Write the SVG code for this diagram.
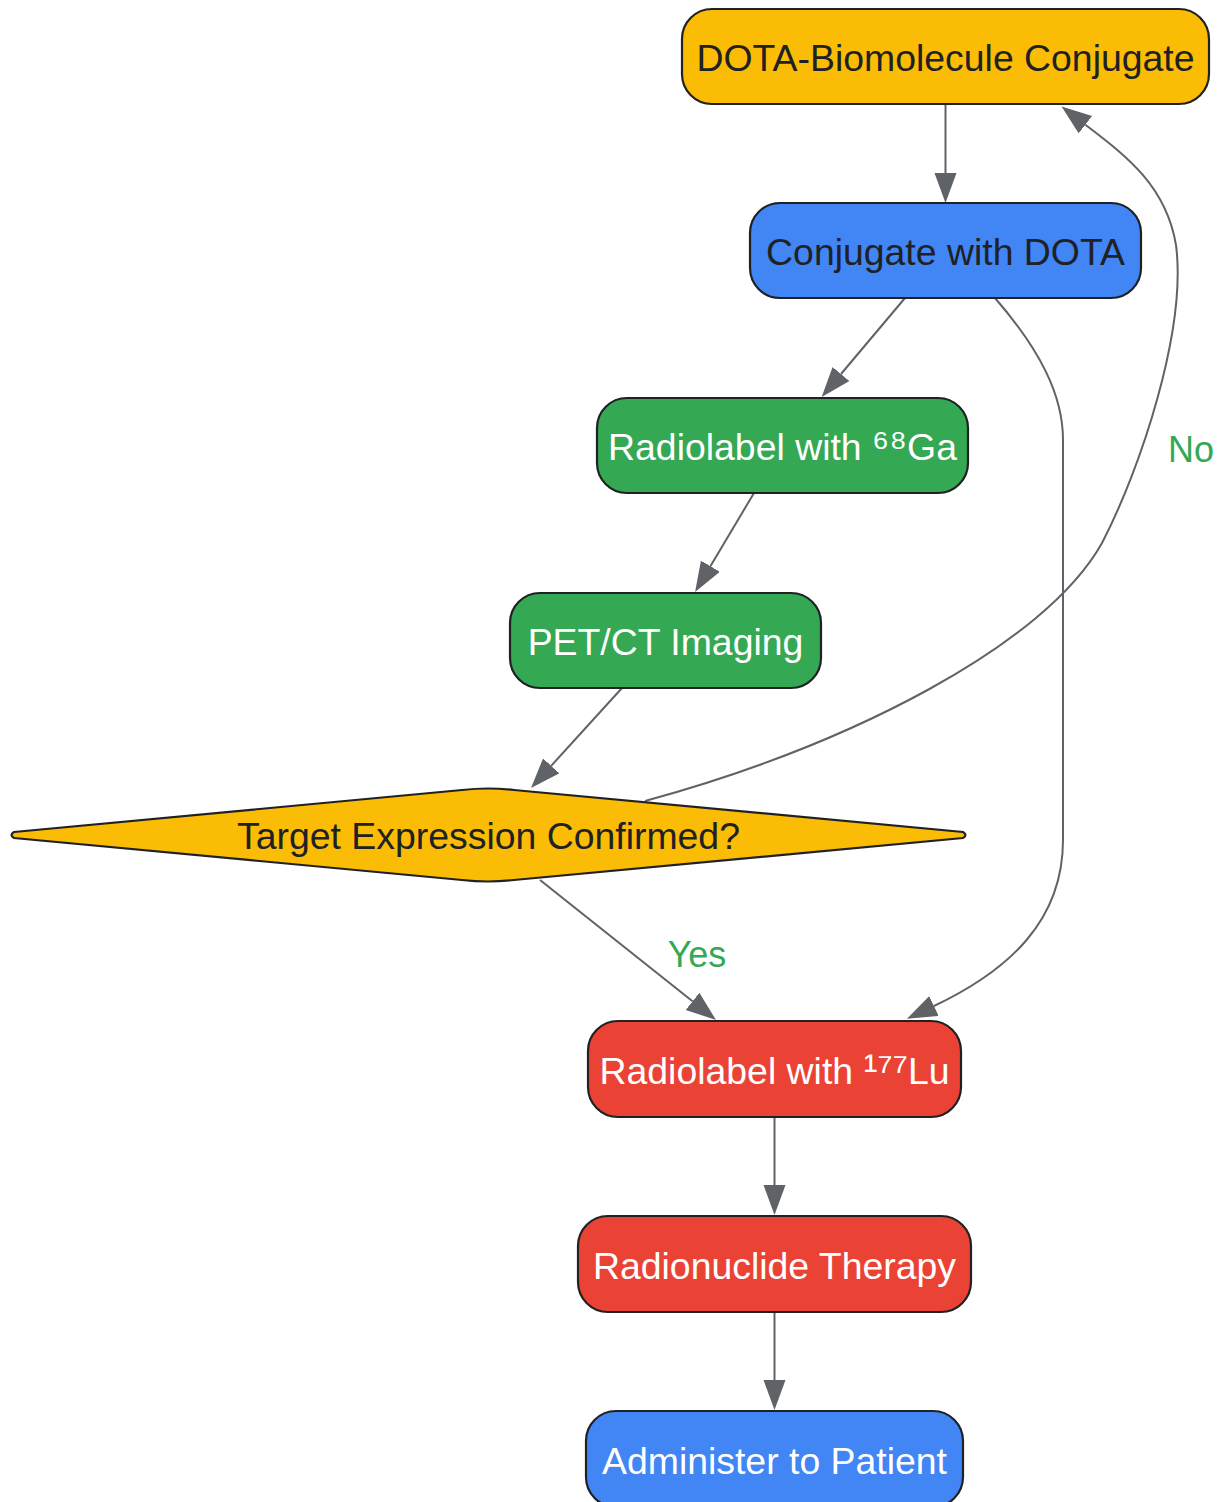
<svg xmlns="http://www.w3.org/2000/svg" width="1220" height="1502" viewBox="0 0 1220 1502">
<defs>
<style>
.node{stroke:#202124;stroke-width:2.2}
.y{fill:#FBBC05}.b{fill:#4285F4}.g{fill:#34A853}.r{fill:#EA4335}
text{font-family:"Liberation Sans",Arial,sans-serif;font-size:37.4px;text-anchor:middle}
.dk{fill:#202124}.wt{fill:#FFFFFF}
.sup{font-size:42px}
.edge{fill:none;stroke:#5F6368;stroke-width:2;marker-end:url(#ah)}
.lbl{fill:#34A853;font-size:36px}
</style>
<marker id="ah" markerUnits="userSpaceOnUse" markerWidth="32" markerHeight="24" refX="0" refY="11" orient="auto">
<path d="M0,0 L30,11 L0,22 Z" fill="#5F6368"/>
</marker>
</defs>
<rect width="1220" height="1502" fill="#FFFFFF"/>
<g id="edges">
<path class="edge" d="M945.5,104 L945.5,173"/>
<path class="edge" d="M905,298 L841,374"/>
<path class="edge" d="M754,493 L710.4,566.2"/>
<path class="edge" d="M622,688 L551.2,765.8"/>
<path class="edge" d="M540,880 L692.5,1001.3"/>
<path class="edge" d="M995,298 C1040,350 1063,395 1063,440 L1063,840 C1063,920 1010,970 934,1006"/>
<path class="edge" d="M645,801 C850,745 1045,645 1102,543 C1140,470 1187,330 1176,245 C1166,185 1125,155 1085.4,124.7"/>
<path class="edge" d="M774.5,1117 L774.5,1185"/>
<path class="edge" d="M774.5,1312 L774.5,1380"/>
<text class="lbl" x="697" y="967">Yes</text>
<text class="lbl" x="1191" y="462">No</text>
</g>
<g id="n1"><rect class="node y" x="682" y="9" width="527" height="95" rx="30"/><text class="dk" x="945.5" y="71">DOTA-Biomolecule Conjugate</text></g>
<g id="n2"><rect class="node b" x="750" y="203" width="391" height="95" rx="30"/><text class="dk" x="945.5" y="265">Conjugate with DOTA</text></g>
<g id="n3"><rect class="node g" x="597" y="398" width="371" height="95" rx="30"/><text class="wt" x="782.5" y="460">Radiolabel with <tspan class="sup">⁶⁸</tspan>Ga</text></g>
<g id="n4"><rect class="node g" x="510" y="593" width="311" height="95" rx="30"/><text class="wt" x="665.5" y="655">PET/CT Imaging</text></g>
<g id="n5"><path class="node y" d="M14,832 L462,790 Q488,787 514,790 L963,832 Q968,835 963,838 L514,880 Q488,883 462,880 L14,838 Q9,835 14,832 Z"/><text class="dk" x="488.5" y="849">Target Expression Confirmed?</text></g>
<g id="n6"><rect class="node r" x="588" y="1021" width="373" height="96" rx="30"/><text class="wt" x="774.5" y="1084">Radiolabel with <tspan class="sup">¹⁷⁷</tspan>Lu</text></g>
<g id="n7"><rect class="node r" x="578" y="1216" width="393" height="96" rx="30"/><text class="wt" x="774.5" y="1279">Radionuclide Therapy</text></g>
<g id="n8"><rect class="node b" x="586" y="1411" width="377" height="96" rx="30"/><text class="wt" x="774.5" y="1474">Administer to Patient</text></g>
</svg>
